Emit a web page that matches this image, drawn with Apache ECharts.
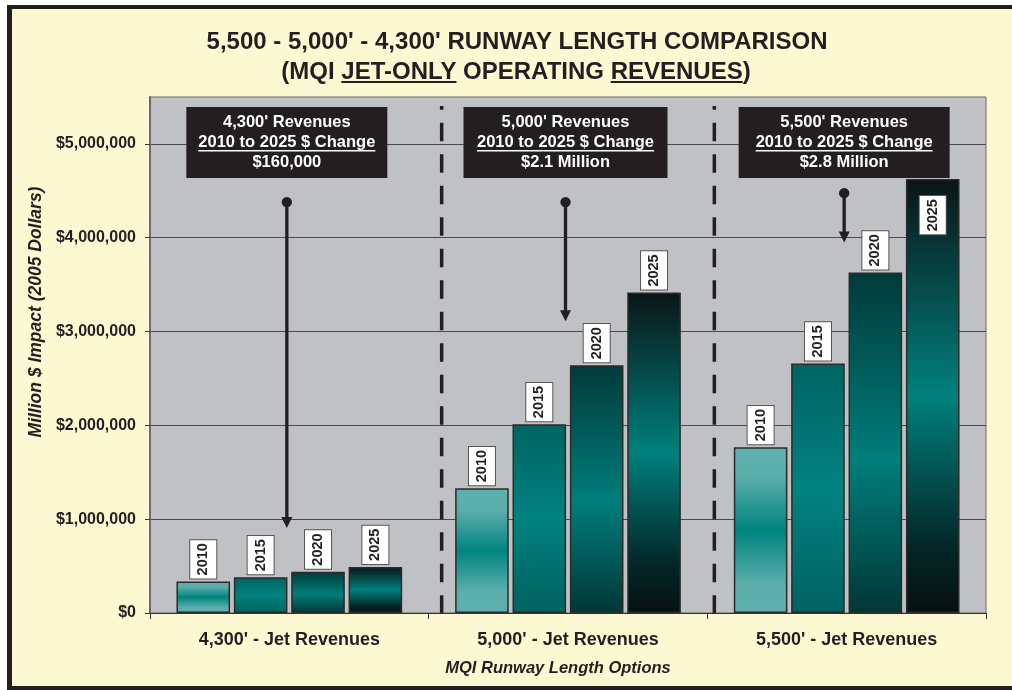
<!DOCTYPE html>
<html><head><meta charset="utf-8">
<script src="https://cdn.jsdelivr.net/npm/echarts@6/dist/echarts.min.js"></script>
<style>
html,body{margin:0;padding:0;background:#FFFFFF;}
#frame{position:absolute;left:7px;top:5px;width:1010px;height:685px;box-sizing:border-box;background:#FCF8D2;border-left:5px solid #231F20;border-top:4px solid #231F20;border-bottom:4px solid #231F20;}
#c{position:absolute;left:0;top:0;width:1012px;height:690px;}
</style>
</head><body><div id="frame"></div><div id="c"></div>
<script>
// ---------- data ----------
const categories = ["4,300' - Jet Revenues", "5,000' - Jet Revenues", "5,500' - Jet Revenues"];
const years = ['2010', '2015', '2020', '2025'];
const rev2010 = [337000, 1330000, 1767000];
const rev2015 = [380000, 2013000, 2660000];
const rev2020 = [441000, 2640000, 3630000];
const rev2025 = [491000, 3415000, 4625000];
const yMin = 0, yMax = 5500000, yStep = 1000000;
const yTickValues = [0, 1000000, 2000000, 3000000, 4000000, 5000000];
const titleLine1 = "5,500 - 5,000' - 4,300' RUNWAY LENGTH COMPARISON";
const titleLine2Parts = ["(MQI ", "JET-ONLY", " OPERATING ", "REVENUES", ")"];
const yAxisName = "Million $ Impact (2005 Dollars)";
const xAxisName = "MQI Runway Length Options";
const boxTitles = ["4,300' Revenues", "5,000' Revenues", "5,500' Revenues"];
const boxSub = "2010 to 2025 $ Change";
const boxChange = ["$160,000", "$2.1 Million", "$2.8 Million"];
const arrowFrom = [4380000, 4380000, 4475000];
const arrowTo = [905000, 3110000, 3948000];

const values = [rev2010, rev2015, rev2020, rev2025];
const FF = "'Liberation Sans', Arial, Helvetica, sans-serif";
const DARK = '#231F20';

function grad(stops) {
  return new echarts.graphic.LinearGradient(0, 0, 0, 1, stops.map(s => ({ offset: s[0], color: s[1] })));
}
const barColors = [
  grad([[0, '#5EB0AE'], [0.18, '#5AADAB'], [0.5, '#00847F'], [0.82, '#5AADAB'], [1, '#5EB0AE']]),
  grad([[0, '#006462'], [0.5, '#00827F'], [1, '#006260']]),
  grad([[0, '#003A3A'], [0.55, '#007E7B'], [1, '#003737']]),
  grad([[0, '#0A1515'], [0.5, '#00807D'], [0.85, '#032626'], [1, '#071111']])
];
const insideLabel = { series: 3, index: 2 };

const labelBase = {
  show: true, position: 'top', rotate: 90, align: 'left', verticalAlign: 'middle', distance: 3,
  backgroundColor: '#FFFFFF', borderColor: '#555555', borderWidth: 1, padding: [5, 3, 5, 3],
  fontSize: 14.5, lineHeight: 16, fontWeight: 'bold', color: DARK, fontFamily: FF
};

const chart = echarts.init(document.getElementById('c'), null, { renderer: 'canvas' });
const option = {
  animation: false,
  backgroundColor: 'transparent',
  grid: { left: 150, right: 26, top: 97, bottom: 77, show: true, backgroundColor: '#C0C1C5', borderColor: '#6B6B6B', borderWidth: 1 },
  xAxis: {
    type: 'category', data: categories,
    axisLine: { lineStyle: { color: '#333333', width: 1 } },
    axisTick: { show: true, length: 6, lineStyle: { color: '#333333' } },
    axisLabel: { fontSize: 18, fontWeight: 'bold', color: DARK, margin: 18, fontFamily: FF },
    splitLine: { show: false }
  },
  yAxis: {
    type: 'value', min: yMin, max: yMax, interval: yStep,
    axisLine: { show: true, lineStyle: { color: '#6B6B6B', width: 2 } },
    axisTick: { show: true, length: 5, lineStyle: { color: '#333333' }, customValues: yTickValues },
    axisLabel: {
      formatter: v => '$' + Number(v).toLocaleString('en-US'),
      fontSize: 16, fontWeight: 'bold', color: DARK, margin: 14, fontFamily: FF,
      customValues: yTickValues
    },
    splitLine: { show: true, lineStyle: { color: '#4A4A4A', width: 1 } }
  },
  series: years.map((yr, i) => ({
    name: yr, type: 'bar', barGap: '7%', barCategoryGap: '19%',
    itemStyle: { color: barColors[i], borderColor: '#2B2B2B', borderWidth: 1.5 },
    label: Object.assign({}, labelBase, { formatter: () => yr }),
    emphasis: { disabled: true },
    data: values[i].map((v, j) => {
      if (i === insideLabel.series && j === insideLabel.index) {
        return { value: v, label: { position: 'insideTop', align: 'right', distance: 17 } };
      }
      return v;
    })
  }))
};
chart.setOption(option);

// ---------- annotations positioned through the axes ----------
const ctx = document.createElement('canvas').getContext('2d');
function tw(text, font) { ctx.font = font; return ctx.measureText(text).width; }

const cx = categories.map(c => chart.convertToPixel({ xAxisIndex: 0 }, c));
const band = cx[1] - cx[0];
const yPx = v => chart.convertToPixel({ yAxisIndex: 0 }, v);
const plotTop = yPx(yMax), plotBottom = yPx(yMin);
const els = [];

// title
const titleFont = 'bold 24px ' + FF;
els.push({ type: 'text', z: 100, style: { x: 517, y: 42, text: titleLine1, font: titleFont, fill: DARK, align: 'center', verticalAlign: 'middle', textAlign: 'center', textVerticalAlign: 'middle' } });
const partW = titleLine2Parts.map(p => tw(p, titleFont));
let tx = 516 - partW.reduce((a, b) => a + b, 0) / 2;
titleLine2Parts.forEach((p, k) => {
  els.push({ type: 'text', z: 100, style: { x: tx, y: 72, text: p, font: titleFont, fill: DARK, align: 'left', verticalAlign: 'middle', textAlign: 'left', textVerticalAlign: 'middle' } });
  if (k === 1 || k === 3) {
    els.push({ type: 'rect', z: 100, shape: { x: tx, y: 81, width: partW[k], height: 2 }, style: { fill: DARK } });
  }
  tx += partW[k];
});

// axis names
els.push({ type: 'text', z: 100, x: 36, y: 312, rotation: Math.PI / 2, style: { x: 0, y: 0, text: yAxisName, font: 'italic bold 17.5px ' + FF, fill: DARK, align: 'center', verticalAlign: 'middle', textAlign: 'center', textVerticalAlign: 'middle' } });
els.push({ type: 'text', z: 100, style: { x: 558, y: 668, text: xAxisName, font: 'italic bold 16.5px ' + FF, fill: DARK, align: 'center', verticalAlign: 'middle', textAlign: 'center', textVerticalAlign: 'middle' } });

// dashed separators
const sepOffset = [13, 7];
[1, 2].forEach((k, n) => {
  const x = cx[k] - band / 2 + sepOffset[n];
  els.push({ type: 'line', z: 50, shape: { x1: x, y1: plotTop + 9, x2: x, y2: plotBottom }, style: { stroke: DARK, lineWidth: 3.5, lineDash: [18.5, 13], lineDashOffset: 14.8 } });
});

// boxes and arrows
const boxW = [201, 204, 211];
const boxFont = 'bold 16.5px ' + FF;
cx.forEach((c, i) => {
  const bx = c - 2.5;
  els.push({ type: 'rect', z: 100, shape: { x: bx - boxW[i] / 2, y: 107, width: boxW[i], height: 71 }, style: { fill: DARK } });
  const lines = [boxTitles[i], boxSub, boxChange[i]];
  lines.forEach((t, k) => {
    els.push({ type: 'text', z: 101, style: { x: bx, y: 122 + k * 20, text: t, font: boxFont, fill: '#FFFFFF', align: 'center', verticalAlign: 'middle', textAlign: 'center', textVerticalAlign: 'middle' } });
  });
  const uw = tw(boxSub, boxFont);
  els.push({ type: 'rect', z: 101, shape: { x: bx - uw / 2, y: 150, width: uw, height: 1.6 }, style: { fill: '#FFFFFF' } });

  const y1 = yPx(arrowFrom[i]), y2 = yPx(arrowTo[i]);
  els.push({ type: 'line', z: 100, shape: { x1: bx, y1: y1, x2: bx, y2: y2 - 9 }, style: { stroke: DARK, lineWidth: 3.3 } });
  els.push({ type: 'circle', z: 100, shape: { cx: bx, cy: y1, r: 5.2 }, style: { fill: DARK } });
  els.push({ type: 'polygon', z: 100, shape: { points: [[bx - 5.5, y2 - 11], [bx + 5.5, y2 - 11], [bx, y2]] }, style: { fill: DARK } });
});

chart.setOption({ graphic: { elements: els } });
</script>
</body></html>
